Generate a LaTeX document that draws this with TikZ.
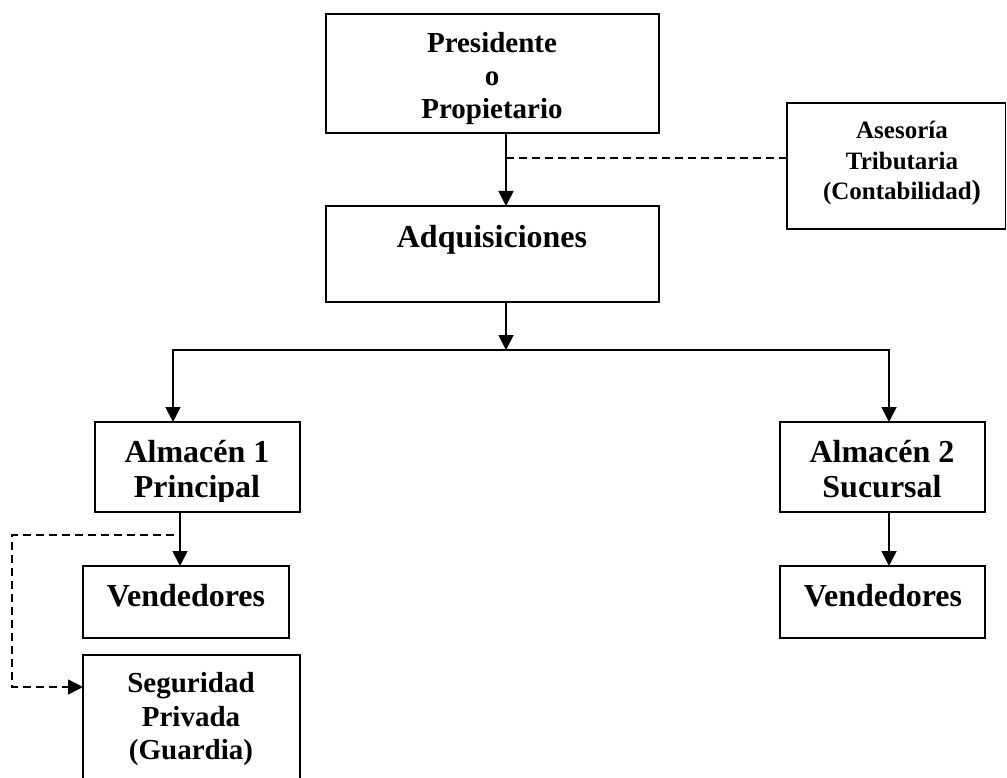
\documentclass[tikz,border=0pt]{standalone}
\usepackage{fontspec}
\setmainfont{Liberation Serif}
\usetikzlibrary{arrows.meta}
\begin{document}
\begin{tikzpicture}[x=1pt,y=-1pt,
  box/.style={draw, line width=1.8pt, rectangle, inner sep=0pt, outer sep=0pt},
  lbl/.style={align=center, inner sep=0pt, outer sep=0pt},
  fA/.style={font=\bfseries\fontsize{29}{33}\selectfont},
  fB/.style={font=\bfseries\fontsize{25}{30.5}\selectfont},
  fC/.style={font=\bfseries\fontsize{32}{35.6}\selectfont},
  tip/.style={-{Triangle[length=15pt,width=15pt]}},
  arr/.style={line width=1.8pt, tip},
  dsh/.style={line width=1.6pt, dash pattern=on 8pt off 5pt},
]
\clip (0,0) rectangle (1007,778);
\fill[white] (0,0) rectangle (1007,778);

% boxes
\node[box, minimum width=333pt, minimum height=119pt] (pres) at (492.5,73.5) {};
\node[box, minimum width=218.5pt, minimum height=126pt] (ase) at (896.25,166) {};
\node[box, minimum width=333pt, minimum height=96pt] (adq) at (492.5,254) {};
\node[box, minimum width=205pt, minimum height=90pt] (alm1) at (197.5,467) {};
\node[box, minimum width=205pt, minimum height=90pt] (alm2) at (882.5,467) {};
\node[box, minimum width=206pt, minimum height=72pt] (ven1) at (186,602) {};
\node[box, minimum width=205pt, minimum height=72pt] (ven2) at (882.5,602) {};
\node[box, minimum width=217pt, minimum height=145pt] (seg) at (191.5,727.5) {};

% texts
\node[lbl, fA] (pres-t) at (492,78.2) {Presidente\\o\\Propietario};
\node[lbl, fB] (ase-t) at (902,163.3) {Asesoría\\Tributaria\\(Contabilidad{\fontsize{28}{30}\selectfont)}};
\node[lbl, fC] (adq-t) at (492,239.5) {Adquisiciones};
\begin{scope}
  \clip (95,422) rectangle (300,501);
  \node[lbl, fC] (alm1-t) at (197,472.4) {Almacén 1\\Principal};
\end{scope}
\node[lbl, fC] (alm2-t) at (882,469.1) {Almacén 2\\Sucursal};
\node[lbl, fC] (ven1-t) at (186,595.9) {Vendedores};
\node[lbl, fC] (ven2-t) at (883,595.9) {Vendedores};
\node[lbl, fA, font=\bfseries\fontsize{29}{33.3}\selectfont] (seg-t) at (191,719.3) {Seguridad\\Privada\\(Guardia)};

% helper coordinates
\coordinate (cx) at (506,0);
\coordinate (dj) at (506,158);
\coordinate (bj) at (506,350);
\coordinate (l1) at (173,350);
\coordinate (r1) at (889,350);
\coordinate (a1x) at (180,0);
\coordinate (sj) at (174,535);
\coordinate (sc) at (12,535);
\coordinate (sd) at (12,687);

% connectors
\draw[arr] (pres.south -| cx) -- (adq.north -| cx);
\draw[dsh] (dj) -- (dj -| ase.west);
\draw[arr] (adq.south -| cx) -- (bj);
\draw[arr] (bj) -| (alm1.north -| l1);
\draw[arr] (bj) -| (alm2.north -| r1);
\draw[arr] (alm1.south -| a1x) -- (ven1.north -| a1x);
\draw[arr] (alm2.south -| r1) -- (ven2.north -| r1);
\draw[dsh, tip] (sj) -- (sc) -- (sd) -- (sd -| seg.west);
\end{tikzpicture}
\end{document}
